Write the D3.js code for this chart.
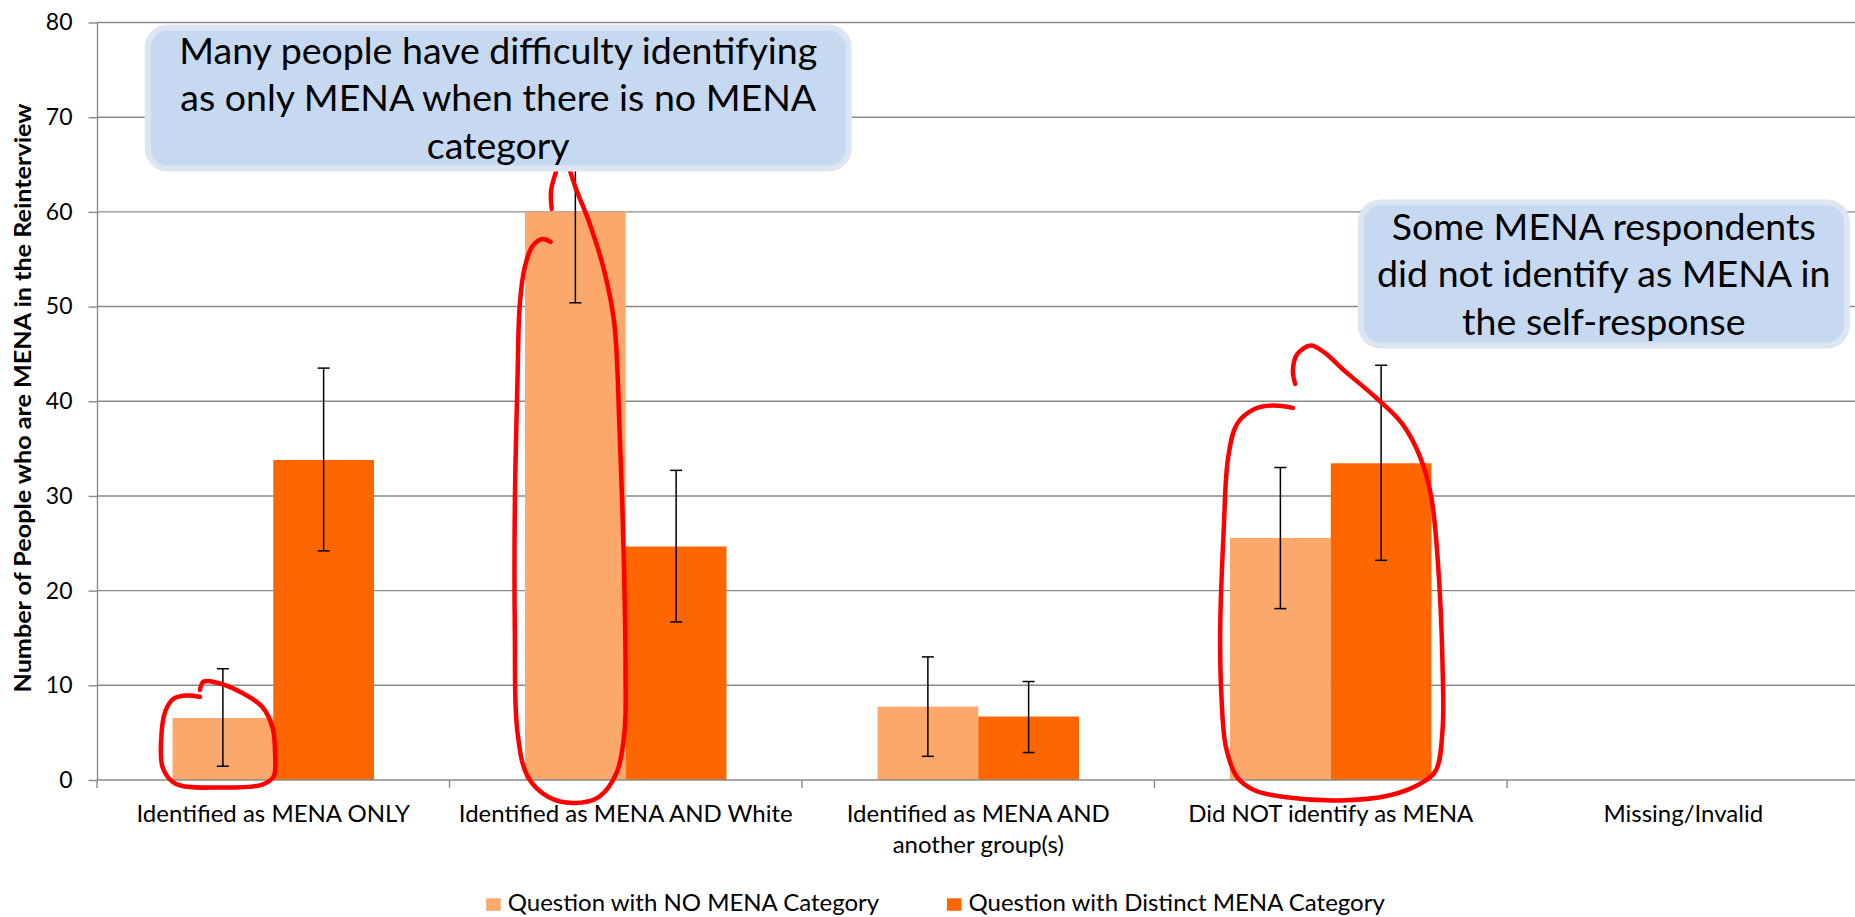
<!DOCTYPE html>
<html>
<head>
<meta charset="utf-8">
<script src="https://cdn.jsdelivr.net/npm/d3@7"></script>
<style>
  html, body { margin: 0; padding: 0; background: #fff; overflow: hidden; }
  text { font-family: Lato, Carlito, Calibri, sans-serif; fill: #000; }
</style>
</head>
<body>
<div id="chart"></div>
<script>
// data
var categories = ["Identified as MENA ONLY", "Identified as MENA AND White",
                  "Identified as MENA AND another group(s)", "Did NOT identify as MENA", "Missing/Invalid"];
var tickLabels = [["Identified as MENA ONLY"], ["Identified as MENA AND White"],
                  ["Identified as MENA AND", "another group(s)"], ["Did NOT identify as MENA"], ["Missing/Invalid"]];
var seriesNames = ["Question with NO MENA Category", "Question with Distinct MENA Category"];
var noMenaValues   = [6.55, 60.0, 7.75, 25.56, null];
var distinctValues = [33.8, 24.66, 6.7, 33.45, null];
var noMenaLow    = [1.45, 50.4, 2.5, 18.1, null];
var noMenaHigh   = [11.75, 69.6, 13.0, 33.0, null];
var distinctLow  = [24.2, 16.7, 2.9, 23.2, null];
var distinctHigh = [43.5, 32.7, 10.4, 43.8, null];
var yTicks = [0, 10, 20, 30, 40, 50, 60, 70, 80];
var yTitle = "Number of People who are MENA in the Reinterview";

var callout1Lines = ["Many people have difficulty identifying", "as only MENA when there is no MENA", "category"];
var callout2Lines = ["Some MENA respondents", "did not identify as MENA in", "the self-response"];

// hand drawn red marks, in [category position, value] units
var redHook = [[1.302, 64.2], [1.288, 62.2], [1.290, 60.3]];
var redLoop1 = [[0.292, 9.51], [0.302, 10.38], [0.338, 10.30], [0.411, 9.22], [0.469, 7.71], [0.498, 5.54],
                [0.505, 2.97], [0.501, 0.37], [0.469, -0.48], [0.353, -0.79], [0.223, -0.40], [0.187, 1.24],
                [0.182, 4.26], [0.194, 7.28], [0.216, 8.56], [0.252, 8.92], [0.292, 8.79]];
var redLoop2 = [[1.2865, 56.84], [1.2647, 57.14], [1.236, 56.41], [1.214, 54.25], [1.1997, 50.38], [1.1926, 41.76],
                [1.1853, 28.83], [1.1853, 15.89], [1.1926, 5.12], [1.2216, 0.38], [1.2794, -1.77], [1.3518, -2.42],
                [1.4241, -1.77], [1.4746, 0.81], [1.4965, 5.12], [1.4993, 11.58], [1.4936, 24.52], [1.482, 37.44],
                [1.4675, 48.22], [1.4386, 53.82], [1.3952, 59.0], [1.3589, 62.44], [1.3399, 64.6]];
var redLoop3 = [[3.399, 41.84], [3.3926, 43.24], [3.4054, 45.0], [3.4434, 45.88], [3.4814, 45.17], [3.5384, 43.24],
                [3.627, 40.42], [3.703, 37.61], [3.7537, 34.09], [3.7852, 29.86], [3.8043, 22.83], [3.817, 12.27],
                [3.817, 5.23], [3.798, 1.0], [3.7537, -0.40], [3.665, -1.64], [3.5257, -2.16], [3.3736, -1.82],
                [3.2851, -1.11], [3.2343, 0.30], [3.2028, 3.46], [3.19, 8.74], [3.1864, 15.79], [3.1963, 26.35],
                [3.2091, 34.09], [3.2343, 37.61], [3.2851, 39.20], [3.3356, 39.55], [3.3926, 39.30]];

var W = 1855, H = 917;
var plotLeft = 97, step = 352.5, plotTop = 22.5, plotBottom = 780;
var colors = ["#FCA86C", "#FF6600"];
var fontLabel = 24;

var svg = d3.select("#chart").append("svg")
            .attr("width", W)
            .attr("height", H);

var x = d3.scaleBand().domain(categories).range([plotLeft, plotLeft + step * categories.length]).padding(0);
var xs = d3.scaleBand().domain(seriesNames).range([75.5, step - 75.5]).padding(0);
var xc = d3.scaleLinear().domain([0, categories.length]).range([plotLeft, plotLeft + step * categories.length]);
var y = d3.scaleLinear().domain([0, 80]).range([plotBottom, plotTop]);

// gridlines
svg.append("g").selectAll("line")
    .data(yTicks.filter(function(d){ return d > 0; }))
    .enter().append("line")
    .attr("x1", plotLeft).attr("x2", W)
    .attr("y1", function(d){ return y(d); })
    .attr("y2", function(d){ return y(d); })
    .attr("stroke", "#8a8a8a")
    .attr("stroke-width", 1.4);

// bars
var rows = categories.map(function(c, i){
    return [
        {cat: c, s: seriesNames[0], v: noMenaValues[i], lo: noMenaLow[i], hi: noMenaHigh[i], col: colors[0]},
        {cat: c, s: seriesNames[1], v: distinctValues[i], lo: distinctLow[i], hi: distinctHigh[i], col: colors[1]}
    ];
});
var flat = [].concat.apply([], rows).filter(function(d){ return d.v != null; });

svg.append("g").selectAll("rect")
    .data(flat)
    .enter().append("rect")
    .attr("x", function(d){ return x(d.cat) + xs(d.s); })
    .attr("width", xs.bandwidth())
    .attr("y", function(d){ return y(d.v); })
    .attr("height", function(d){ return y(0) - y(d.v); })
    .attr("fill", function(d){ return d.col; });

// error bars
function midX(d){ return x(d.cat) + xs(d.s) + xs.bandwidth() / 2; }
var eb = svg.append("g").selectAll("g")
    .data(flat)
    .enter().append("g")
    .attr("stroke", "#000")
    .attr("stroke-width", 1.5);
eb.append("line")
    .attr("x1", midX).attr("x2", midX)
    .attr("y1", function(d){ return y(d.lo); })
    .attr("y2", function(d){ return y(d.hi); });
["lo", "hi"].forEach(function(k){
    eb.append("line")
        .attr("x1", function(d){ return midX(d) - 6; })
        .attr("x2", function(d){ return midX(d) + 6; })
        .attr("y1", function(d){ return y(d[k]); })
        .attr("y2", function(d){ return y(d[k]); });
});

// y axis
var yAxis = svg.append("g")
    .attr("transform", "translate(" + plotLeft + ",0)")
    .call(d3.axisLeft(y).tickValues(yTicks).tickSize(8.5).tickPadding(16).tickSizeOuter(0));
yAxis.select(".domain").attr("stroke", "#8a8a8a").attr("stroke-width", 1.4);
yAxis.selectAll(".tick line").attr("stroke", "#8a8a8a").attr("stroke-width", 1.4);
yAxis.selectAll(".tick text")
    .style("font-family", "Lato, Carlito, Calibri, sans-serif")
    .style("font-size", "23px")
    .attr("fill", "#000");

// x axis
svg.append("line")
    .attr("x1", plotLeft).attr("x2", W)
    .attr("y1", y(0)).attr("y2", y(0))
    .attr("stroke", "#8a8a8a").attr("stroke-width", 1.4);
svg.append("g").selectAll("line")
    .data(d3.range(categories.length + 1))
    .enter().append("line")
    .attr("x1", function(d){ return xc(d); })
    .attr("x2", function(d){ return xc(d); })
    .attr("y1", y(0)).attr("y2", y(0) + 8)
    .attr("stroke", "#8a8a8a").attr("stroke-width", 1.4);

var xl = svg.append("g").selectAll("text")
    .data(categories)
    .enter().append("text")
    .attr("text-anchor", "middle")
    .attr("font-size", fontLabel)
    .attr("x", function(d){ return x(d) + x.bandwidth() / 2; })
    .attr("y", 821.5);
xl.selectAll("tspan")
    .data(function(d, i){ return tickLabels[i]; })
    .enter().append("tspan")
    .attr("x", function(){ return d3.select(this.parentNode).attr("x"); })
    .attr("dy", function(d, i){ return i === 0 ? 0 : 31.5; })
    .text(function(d){ return d; });

// y title
svg.append("text")
    .attr("transform", "translate(31,398) rotate(-90)")
    .attr("text-anchor", "middle")
    .attr("font-size", 23.5)
    .attr("font-weight", "bold")
    .attr("textLength", 589)
    .attr("lengthAdjust", "spacingAndGlyphs")
    .text(yTitle);

// legend
var items = svg.append("g").selectAll("g")
    .data(seriesNames)
    .enter().append("g");
items.append("rect")
    .attr("width", 14.5).attr("height", 12.5)
    .attr("y", 898.3)
    .attr("fill", function(d, i){ return colors[i]; });
items.append("text")
    .attr("font-size", fontLabel)
    .attr("y", 910.5)
    .text(function(d){ return d; });
var widths = [];
items.select("text").each(function(){ widths.push(this.getComputedTextLength()); });
var lx = 935.5 - (widths[0] + widths[1] + 2 * 21.6 + 67.7) / 2;
items.each(function(d, i){
    var g = d3.select(this);
    g.select("rect").attr("x", lx);
    g.select("text").attr("x", lx + 21.6);
    lx += 21.6 + widths[i] + 67.7;
});

// red hand drawn marks
var redLine = d3.line()
    .x(function(d){ return xc(d[0]); })
    .y(function(d){ return y(d[1]); })
    .curve(d3.curveCatmullRom.alpha(0.5));
svg.append("g").selectAll("path")
    .data([redHook, redLoop1, redLoop2, redLoop3])
    .enter().append("path")
    .attr("d", redLine)
    .attr("fill", "none")
    .attr("stroke", "#FF0000")
    .attr("stroke-width", 4.5)
    .attr("stroke-linecap", "round")
    .attr("stroke-linejoin", "round");

// callouts
function callout(c0, c1, vTop, vBot, lines){
    var g = svg.append("g");
    var x0 = xc(c0), x1 = xc(c1), y0 = y(vTop), y1 = y(vBot);
    g.append("rect")
        .attr("x", x0 + 3).attr("y", y0 + 3)
        .attr("width", x1 - x0 - 6).attr("height", y1 - y0 - 6)
        .attr("rx", 20).attr("ry", 20)
        .attr("fill", "#C6D9F0")
        .attr("stroke", "#DCE6F2")
        .attr("stroke-width", 6);
    var cy = (y0 + y1) / 2;
    g.selectAll("text")
        .data(lines)
        .enter().append("text")
        .attr("text-anchor", "middle")
        .attr("font-size", 37.5)
        .attr("x", (x0 + x1) / 2)
        .attr("y", function(d, i){ return cy + (i - 1) * 47.5 + 13; })
        .text(function(d){ return d; });
}
callout(0.1356, 2.141, 79.78, 64.26, callout1Lines);
callout(3.5767, 4.9725, 61.3, 45.56, callout2Lines);
</script>
</body>
</html>
